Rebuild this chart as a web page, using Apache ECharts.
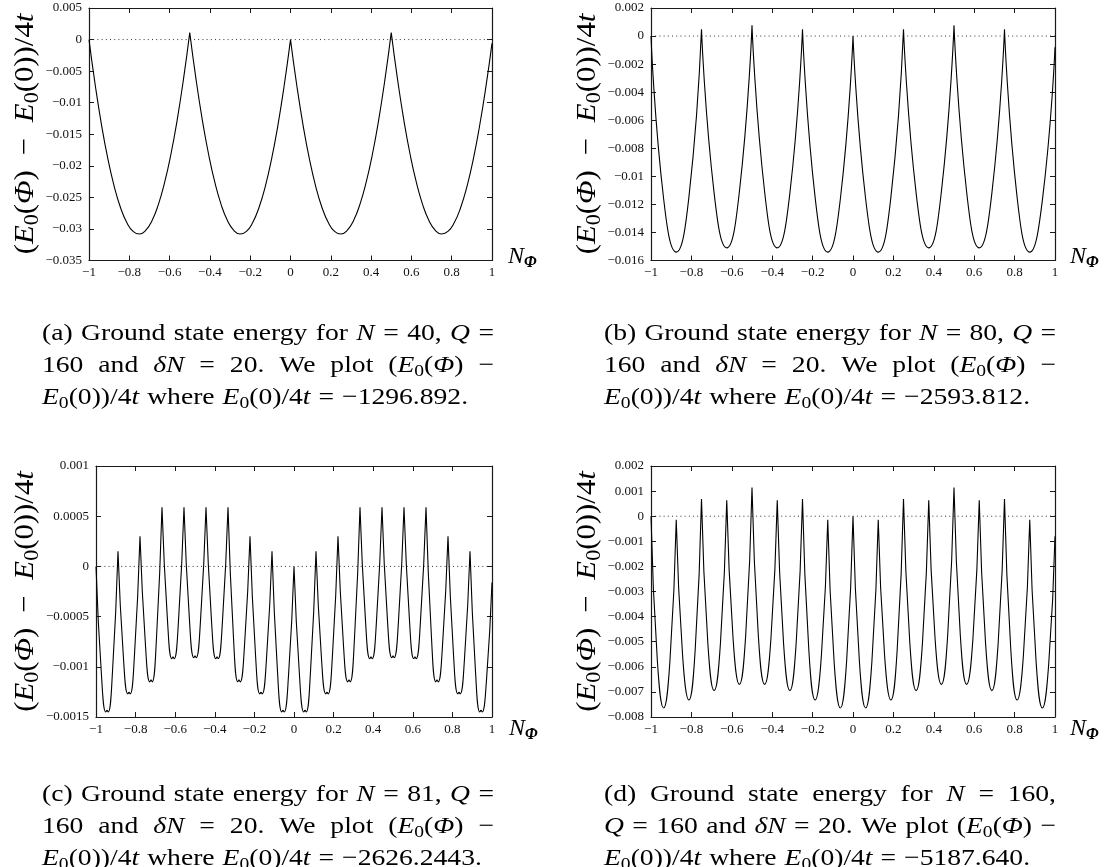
<!DOCTYPE html>
<html>
<head>
<meta charset="utf-8">
<script src="https://cdn.jsdelivr.net/npm/echarts@6/dist/echarts.min.js"></script>
<style>
  html, body { margin: 0; padding: 0; background: #fff; }
  #chart { width: 1110px; height: 867px; }
</style>
</head>
<body>
<div id="chart"></div>
<script>
// Flux axis shared by the four panels: [min, max, step]
const phiAxis = [-1, 1, 0.2];

// Energy axes of panels (a)-(d): [min, max, step]
const energyAxisA = [-0.035, 0.005, 0.005];
const energyAxisB = [-0.016, 0.002, 0.002];
const energyAxisC = [-0.0015, 0.001, 0.0005];
const energyAxisD = [-0.008, 0.002, 0.001];

// Each branch runs cusp to cusp; a repeated flux value marks a cusp (kink) in the curve.
// (a) N = 40
const phiA = [
  -1, -0.96875, -0.9375, -0.90625, -0.875, -0.84375, -0.8125, -0.78125, -0.75,
  -0.71875, -0.6875, -0.65625, -0.625, -0.59375, -0.5625, -0.53125, -0.5,
  -0.5, -0.46875, -0.4375, -0.40625, -0.375, -0.34375, -0.3125, -0.28125, -0.25,
  -0.21875, -0.1875, -0.15625, -0.125, -0.09375, -0.0625, -0.03125, 0,
  0, 0.03125, 0.0625, 0.09375, 0.125, 0.15625, 0.1875, 0.21875, 0.25,
  0.28125, 0.3125, 0.34375, 0.375, 0.40625, 0.4375, 0.46875, 0.5,
  0.5, 0.53125, 0.5625, 0.59375, 0.625, 0.65625, 0.6875, 0.71875, 0.75,
  0.78125, 0.8125, 0.84375, 0.875, 0.90625, 0.9375, 0.96875, 1
];
const energyA = [
  0, -0.00728, -0.01358, -0.0189, -0.02324, -0.0266, -0.02898, -0.03038, -0.0308,
  -0.03024, -0.0287, -0.02618, -0.02268, -0.01821, -0.01275, -0.00631, 0.0011,
  0.0011, -0.00631, -0.01275, -0.01821, -0.02268, -0.02618, -0.0287, -0.03024, -0.0308,
  -0.03038, -0.02898, -0.0266, -0.02324, -0.0189, -0.01358, -0.00728, 0,
  0, -0.00728, -0.01358, -0.0189, -0.02324, -0.0266, -0.02898, -0.03038, -0.0308,
  -0.03024, -0.0287, -0.02618, -0.02268, -0.01821, -0.01275, -0.00631, 0.0011,
  0.0011, -0.00631, -0.01275, -0.01821, -0.02268, -0.02618, -0.0287, -0.03024, -0.0308,
  -0.0304, -0.02902, -0.02668, -0.02336, -0.0191, -0.01385, -0.0077, -0.0006
];

// (b) N = 80
const phiB = [
  -1, -0.9375, -0.875, -0.8125, -0.75,
  -0.75, -0.6875, -0.625, -0.5625, -0.5,
  -0.5, -0.4375, -0.375, -0.3125, -0.25,
  -0.25, -0.1875, -0.125, -0.0625, 0,
  0, 0.0625, 0.125, 0.1875, 0.25,
  0.25, 0.3125, 0.375, 0.4375, 0.5,
  0.5, 0.5625, 0.625, 0.6875, 0.75,
  0.75, 0.8125, 0.875, 0.9375, 1
];
const energyB = [
  0, -0.0116, -0.0154, -0.0115, 0.00048,
  0.00048, -0.0112, -0.0151, -0.0111, 0.00076,
  0.00076, -0.0111, -0.0151, -0.0112, 0.00048,
  0.00048, -0.0115, -0.0154, -0.0116, 0,
  0, -0.0116, -0.0154, -0.0115, 0.00048,
  0.00048, -0.0112, -0.0151, -0.0111, 0.00076,
  0.00076, -0.0111, -0.0151, -0.0112, 0.00048,
  0.00048, -0.0115, -0.0154, -0.0117, -0.0008
];

// (c) N = 81: every valley has a small level crossing at its centre
const phiC = [
  -1, -0.9722, -0.9504, -0.9444, -0.9444, -0.9384, -0.9167, -0.8889,
  -0.8889, -0.8611, -0.8393, -0.8333, -0.8333, -0.8273, -0.8056, -0.7778,
  -0.7778, -0.75, -0.7282, -0.7222, -0.7222, -0.7162, -0.6944, -0.6667,
  -0.6667, -0.6389, -0.6171, -0.6111, -0.6111, -0.6051, -0.5833, -0.5556,
  -0.5556, -0.5278, -0.506, -0.5, -0.5, -0.494, -0.4722, -0.4444,
  -0.4444, -0.4167, -0.3949, -0.3889, -0.3889, -0.3829, -0.3611, -0.3333,
  -0.3333, -0.3056, -0.2838, -0.2778, -0.2778, -0.2718, -0.25, -0.2222,
  -0.2222, -0.1944, -0.1727, -0.1667, -0.1667, -0.1607, -0.1389, -0.1111,
  -0.1111, -0.0833, -0.0616, -0.0556, -0.0556, -0.0496, -0.0278, 0,
  0, 0.0278, 0.0496, 0.0556, 0.0556, 0.0616, 0.0833, 0.1111,
  0.1111, 0.1389, 0.1607, 0.1667, 0.1667, 0.1727, 0.1944, 0.2222,
  0.2222, 0.25, 0.2718, 0.2778, 0.2778, 0.2838, 0.3056, 0.3333,
  0.3333, 0.3611, 0.3829, 0.3889, 0.3889, 0.3949, 0.4167, 0.4444,
  0.4444, 0.4722, 0.494, 0.5, 0.5, 0.506, 0.5278, 0.5556,
  0.5556, 0.5833, 0.6051, 0.6111, 0.6111, 0.6171, 0.6389, 0.6667,
  0.6667, 0.6944, 0.7162, 0.7222, 0.7222, 0.7282, 0.75, 0.7778,
  0.7778, 0.8056, 0.8273, 0.8333, 0.8333, 0.8393, 0.8611, 0.8889,
  0.8889, 0.9167, 0.9384, 0.9444, 0.9444, 0.9504, 0.9722, 1
];
const energyC = [
  0, -0.00109, -0.00145, -0.00143, -0.00143, -0.00145, -0.00105, 0.00015,
  0.00015, -0.00092, -0.00127, -0.00125, -0.00125, -0.00127, -0.00088, 0.0003,
  0.0003, -0.00079, -0.00115, -0.00113, -0.00113, -0.00115, -0.00071, 0.00059,
  0.00059, -0.00054, -0.00092, -0.0009, -0.0009, -0.00092, -0.00054, 0.00059,
  0.00059, -0.00054, -0.00091, -0.00089, -0.00089, -0.00091, -0.00054, 0.00059,
  0.00059, -0.00054, -0.00092, -0.0009, -0.0009, -0.00092, -0.00054, 0.00059,
  0.00059, -0.00071, -0.00115, -0.00113, -0.00113, -0.00115, -0.00079, 0.0003,
  0.0003, -0.00088, -0.00127, -0.00125, -0.00125, -0.00127, -0.00092, 0.00015,
  0.00015, -0.00105, -0.00145, -0.00143, -0.00143, -0.00145, -0.00109, 0,
  0, -0.00109, -0.00145, -0.00143, -0.00143, -0.00145, -0.00105, 0.00015,
  0.00015, -0.00092, -0.00127, -0.00125, -0.00125, -0.00127, -0.00088, 0.0003,
  0.0003, -0.00079, -0.00115, -0.00113, -0.00113, -0.00115, -0.00071, 0.00059,
  0.00059, -0.00054, -0.00092, -0.0009, -0.0009, -0.00092, -0.00054, 0.00059,
  0.00059, -0.00054, -0.00091, -0.00089, -0.00089, -0.00091, -0.00054, 0.00059,
  0.00059, -0.00054, -0.00092, -0.0009, -0.0009, -0.00092, -0.00054, 0.00059,
  0.00059, -0.00071, -0.00115, -0.00113, -0.00113, -0.00115, -0.00079, 0.0003,
  0.0003, -0.00088, -0.00127, -0.00125, -0.00125, -0.00127, -0.00092, 0.00015,
  0.00015, -0.00105, -0.00145, -0.00143, -0.00143, -0.00145, -0.00113, -0.00016
];

// (d) N = 160
const phiD = [
  -1, -0.96875, -0.9375, -0.90625, -0.875,
  -0.875, -0.84375, -0.8125, -0.78125, -0.75,
  -0.75, -0.71875, -0.6875, -0.65625, -0.625,
  -0.625, -0.59375, -0.5625, -0.53125, -0.5,
  -0.5, -0.46875, -0.4375, -0.40625, -0.375,
  -0.375, -0.34375, -0.3125, -0.28125, -0.25,
  -0.25, -0.21875, -0.1875, -0.15625, -0.125,
  -0.125, -0.09375, -0.0625, -0.03125, 0,
  0, 0.03125, 0.0625, 0.09375, 0.125,
  0.125, 0.15625, 0.1875, 0.21875, 0.25,
  0.25, 0.28125, 0.3125, 0.34375, 0.375,
  0.375, 0.40625, 0.4375, 0.46875, 0.5,
  0.5, 0.53125, 0.5625, 0.59375, 0.625,
  0.625, 0.65625, 0.6875, 0.71875, 0.75,
  0.75, 0.78125, 0.8125, 0.84375, 0.875,
  0.875, 0.90625, 0.9375, 0.96875, 1
];
const energyD = [
  0, -0.00573, -0.00764, -0.00577, -0.00014,
  -0.00014, -0.00553, -0.00732, -0.00532, 0.00068,
  0.00068, -0.00504, -0.00695, -0.00506, 0.00063,
  0.00063, -0.00487, -0.0067, -0.00474, 0.00114,
  0.00114, -0.00474, -0.0067, -0.00487, 0.00063,
  0.00063, -0.00506, -0.00695, -0.00504, 0.00068,
  0.00068, -0.00532, -0.00732, -0.00553, -0.00014,
  -0.00014, -0.00577, -0.00764, -0.00573, 0,
  0, -0.00573, -0.00764, -0.00577, -0.00014,
  -0.00014, -0.00553, -0.00732, -0.00532, 0.00068,
  0.00068, -0.00504, -0.00695, -0.00506, 0.00063,
  0.00063, -0.00487, -0.0067, -0.00474, 0.00114,
  0.00114, -0.00474, -0.0067, -0.00487, 0.00063,
  0.00063, -0.00506, -0.00695, -0.00504, 0.00068,
  0.00068, -0.00532, -0.00732, -0.00553, -0.00014,
  -0.00014, -0.00577, -0.00764, -0.00590, -0.0008
];

// Caption lines, written as rich-text words ({r|roman}, {i|italic}, {s|subscript})
const captionA = [
  ['{r|(a)}', '{r|Ground}', '{r|state}', '{r|energy}', '{r|for}', '{i|N}', '{r|=}', '{r|40,}', '{i|Q}', '{r|=}'],
  ['{r|160}', '{r|and}', '{i|δN}', '{r|=}', '{r|20.}', '{r|We}', '{r|plot}', '{r|(}{i|E}{s|0}{r|(}{i|Φ}{r|)}', '{r|−}'],
  ['{i|E}{s|0}{r|(0))/4}{i|t}', '{r|where}', '{i|E}{s|0}{r|(0)/4}{i|t}', '{r|=}', '{r|−1296.892.}']
];
const captionB = [
  ['{r|(b)}', '{r|Ground}', '{r|state}', '{r|energy}', '{r|for}', '{i|N}', '{r|=}', '{r|80,}', '{i|Q}', '{r|=}'],
  ['{r|160}', '{r|and}', '{i|δN}', '{r|=}', '{r|20.}', '{r|We}', '{r|plot}', '{r|(}{i|E}{s|0}{r|(}{i|Φ}{r|)}', '{r|−}'],
  ['{i|E}{s|0}{r|(0))/4}{i|t}', '{r|where}', '{i|E}{s|0}{r|(0)/4}{i|t}', '{r|=}', '{r|−2593.812.}']
];
const captionC = [
  ['{r|(c)}', '{r|Ground}', '{r|state}', '{r|energy}', '{r|for}', '{i|N}', '{r|=}', '{r|81,}', '{i|Q}', '{r|=}'],
  ['{r|160}', '{r|and}', '{i|δN}', '{r|=}', '{r|20.}', '{r|We}', '{r|plot}', '{r|(}{i|E}{s|0}{r|(}{i|Φ}{r|)}', '{r|−}'],
  ['{i|E}{s|0}{r|(0))/4}{i|t}', '{r|where}', '{i|E}{s|0}{r|(0)/4}{i|t}', '{r|=}', '{r|−2626.2443.}']
];
const captionD = [
  ['{r|(d)}', '{r|Ground}', '{r|state}', '{r|energy}', '{r|for}', '{i|N}', '{r|=}', '{r|160,}'],
  ['{i|Q}', '{r|=}', '{r|160}', '{r|and}', '{i|δN}', '{r|=}', '{r|20.}', '{r|We}', '{r|plot}', '{r|(}{i|E}{s|0}{r|(}{i|Φ}{r|)}', '{r|−}'],
  ['{i|E}{s|0}{r|(0))/4}{i|t}', '{r|where}', '{i|E}{s|0}{r|(0)/4}{i|t}', '{r|=}', '{r|−5187.640.}']
];

const yTitle = '{r|(}{i|E}{s|0}{r|(}{i|Φ}{r|)  −  }{i|E}{s|0}{r|(0))/4}{i|t}';
const xTitle = '{n|N}{f|Φ}';

// ---------------------------------------------------------------------------
const SERIF = "'Liberation Serif', 'Times New Roman', serif";
const INK = '#000';

const captionStyles = {
  r: { fontFamily: SERIF, fontSize: 24, lineHeight: 29, fill: INK },
  i: { fontFamily: SERIF, fontSize: 24, lineHeight: 29, fontStyle: 'italic', fill: INK },
  s: { fontFamily: SERIF, fontSize: 17, lineHeight: 17, verticalAlign: 'bottom', fill: INK }
};
const yTitleStyles = {
  r: { fontFamily: SERIF, fontSize: 28, lineHeight: 34, fill: INK },
  i: { fontFamily: SERIF, fontSize: 28, lineHeight: 34, fontStyle: 'italic', fill: INK },
  s: { fontFamily: SERIF, fontSize: 20, lineHeight: 20, verticalAlign: 'bottom', fill: INK }
};
const xTitleStyles = {
  n: { fontFamily: SERIF, fontSize: 24, lineHeight: 29, fontStyle: 'italic', fill: INK },
  f: { fontFamily: SERIF, fontSize: 16, lineHeight: 16, fontStyle: 'italic', fontWeight: 'bold', verticalAlign: 'bottom', fill: INK }
};

const CAPTION_SCALE = 1.15;   // widen the serif face towards a Computer Modern measure
const WORD_GAP = 8;           // plain inter-word space on the closing caption line

const measureCtx = document.createElement('canvas').getContext('2d');
function richWidth(str, styles) {
  let w = 0;
  str.replace(/\{(\w+)\|([^}]*)\}/g, (m, name, txt) => {
    const s = styles[name];
    measureCtx.font = [s.fontStyle || 'normal', s.fontWeight || 'normal', s.fontSize + 'px', s.fontFamily].join(' ');
    w += measureCtx.measureText(txt).width;
    return m;
  });
  return w;
}

// Lay out one caption line as separate word elements; justified when a width is given
function captionLine(words, x0, y, width, sx) {
  const widths = words.map(w => richWidth(w, captionStyles) * sx);
  const total = widths.reduce((a, b) => a + b, 0);
  const gap = width == null ? WORD_GAP : (width - total) / (words.length - 1);
  let x = x0;
  return words.map((w, i) => {
    const el = {
      type: 'text', x: x, y: y, scaleX: sx, silent: true,
      style: { text: w, rich: captionStyles, align: 'left', verticalAlign: 'middle', fill: INK }
    };
    x += widths[i] + gap;
    return el;
  });
}

function caption(lines, x0, ys) {
  let els = [];
  lines.forEach((words, k) => {
    const last = k === lines.length - 1;
    els = els.concat(captionLine(words, x0, ys[k], last ? null : 452, CAPTION_SCALE));
  });
  return els;
}

// Split a flux/energy list into branches wherever a flux value repeats
function branches(phi, energy) {
  const out = [];
  for (let i = 0; i < phi.length; i++) {
    if (i > 0 && phi[i] === phi[i - 1]) out.push([phi[i], '-']);
    out.push([phi[i], energy[i]]);
  }
  return out;
}

const fmt = v => {
  const n = parseFloat(Number(v).toPrecision(10));
  return n < 0 ? '\u2212' + String(-n) : String(n === 0 ? 0 : n);
};

const frame = { color: '#1a1a1a', width: 1.2 };

function axes(gridIndex, range, isX) {
  const base = {
    gridIndex: gridIndex, type: 'value',
    min: range[0], max: range[1], interval: range[2],
    splitLine: { show: false },
    axisLine: { show: true, onZero: false, lineStyle: frame },
    axisTick: { show: true, inside: true, length: 5, lineStyle: { color: '#1a1a1a', width: 1 } }
  };
  return [
    Object.assign({}, base, {
      position: isX ? 'bottom' : 'left',
      axisLabel: {
        show: true, margin: isX ? 6 : 7, formatter: fmt,
        fontFamily: SERIF, fontSize: 13, color: '#111',
        showMinLabel: true, showMaxLabel: true
      }
    }),
    Object.assign({}, base, { position: isX ? 'top' : 'right', axisLabel: { show: false } })
  ];
}

const panels = [
  { phi: phiA, energy: energyA, yRange: energyAxisA, grid: { left: 89, top: 8, width: 403, height: 252.5 } },
  { phi: phiB, energy: energyB, yRange: energyAxisB, grid: { left: 651, top: 8, width: 404, height: 252.5 } },
  { phi: phiC, energy: energyC, yRange: energyAxisC, grid: { left: 96, top: 466, width: 396, height: 251 } },
  { phi: phiD, energy: energyD, yRange: energyAxisD, grid: { left: 651, top: 466, width: 404, height: 251 } }
];

const grid = [], xAxis = [], yAxis = [], series = [];
panels.forEach((p, i) => {
  grid.push(p.grid);
  xAxis.push(...axes(i, phiAxis, true));
  yAxis.push(...axes(i, p.yRange, false));
  series.push({
    type: 'line', xAxisIndex: 2 * i, yAxisIndex: 2 * i,
    data: [[phiAxis[0], 0], [phiAxis[1], 0]],
    symbol: 'none', silent: true,
    lineStyle: { color: '#333', width: 1, type: [1, 3.2] }
  });
  series.push({
    type: 'line', xAxisIndex: 2 * i, yAxisIndex: 2 * i,
    data: branches(p.phi, p.energy),
    showSymbol: false, symbol: 'none', silent: true,
    smooth: 0.5, connectNulls: false,
    lineStyle: { color: INK, width: 1.1 }
  });
});

// Axis titles and captions
const yTitleAt = [[26, 134], [588, 134], [26, 591.5], [588, 591.5]];
const xTitleAt = [[508, 256.6], [1070, 256.6], [509, 728.6], [1070, 728.6]];
let elements = [];
yTitleAt.forEach(([x, y]) => elements.push({
  type: 'text', x: x, y: y, rotation: Math.PI / 2, scaleX: 1.1, silent: true,
  style: { text: yTitle, rich: yTitleStyles, align: 'center', verticalAlign: 'middle', fill: INK }
}));
xTitleAt.forEach(([x, y]) => elements.push({
  type: 'text', x: x, y: y, silent: true,
  style: { text: xTitle, rich: xTitleStyles, align: 'left', verticalAlign: 'middle', fill: INK }
}));
elements = elements
  .concat(caption(captionA, 42, [334, 366, 398]))
  .concat(caption(captionB, 604, [334, 366, 398]))
  .concat(caption(captionC, 42, [795, 827, 859]))
  .concat(caption(captionD, 604, [795, 827, 859]));

const chart = echarts.init(document.getElementById('chart'), null, { renderer: 'canvas' });
chart.setOption({
  animation: false,
  backgroundColor: '#fff',
  textStyle: { fontFamily: SERIF },
  grid: grid, xAxis: xAxis, yAxis: yAxis, series: series,
  graphic: { elements: elements }
});
</script>
</body>
</html>
